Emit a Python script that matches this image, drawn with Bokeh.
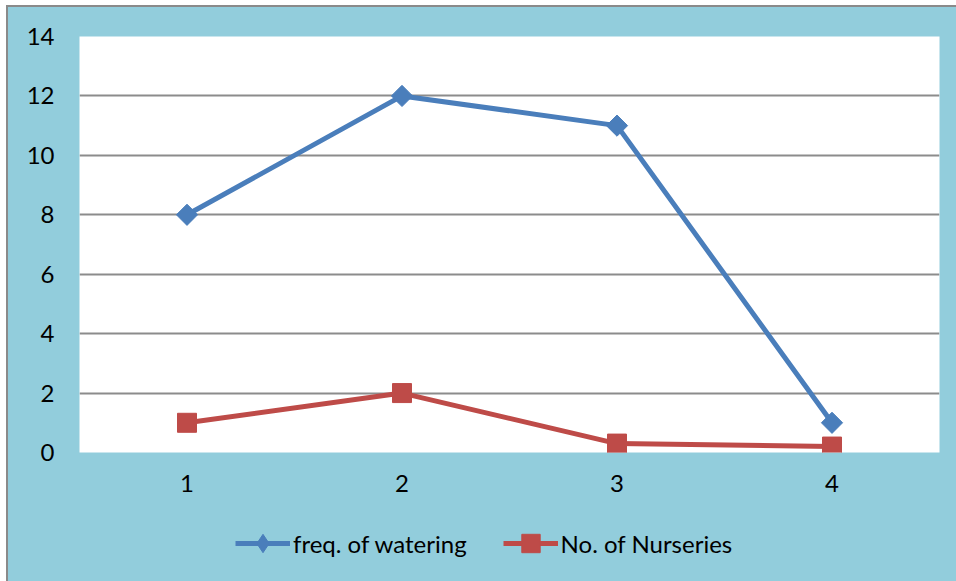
from bokeh.plotting import figure
from bokeh.models import Legend, LegendItem, FixedTicker, Range1d
from bokeh.layouts import column
from bokeh.embed import file_html
from bokeh.resources import INLINE
import math

categories = [1, 2, 3, 4]
freq_watering = [8, 12, 11, 1]
no_nurseries = [1, 2, 0.3, 0.2]
y_ticks = [0, 2, 4, 6, 8, 10, 12, 14]
series_names = ["freq. of watering", "No. of Nurseries"]

BG = "#92CDDC"
BLUE = "#4A7EBB"
RED = "#BE4B48"
FONT = "Lato"
W = 948

p = figure(width=W, height=500, output_backend="svg", toolbar_location=None,
           x_range=Range1d(0.5, 4.5), y_range=Range1d(0, 14),
           background_fill_color="white", border_fill_color=BG,
           min_border_left=71, min_border_right=17, min_border_top=29, min_border_bottom=55)
p.outline_line_color = None

p.xgrid.grid_line_color = None
p.ygrid.grid_line_color = "#8c8c8c"
p.ygrid.grid_line_width = 2

p.yaxis.ticker = FixedTicker(ticks=y_ticks)
p.xaxis.ticker = FixedTicker(ticks=categories)
for ax in (p.xaxis, p.yaxis):
    ax.axis_line_color = None
    ax.major_tick_line_color = None
    ax.minor_tick_line_color = None
    ax.major_label_text_font = FONT
    ax.major_label_text_font_size = "24px"
    ax.major_label_text_color = "black"
p.yaxis.major_label_standoff = 19
p.xaxis.major_label_standoff = 16

p.line(categories, freq_watering, line_color=BLUE, line_width=5)
p.scatter(categories, freq_watering, marker="square", size=15, angle=math.pi / 4,
          fill_color=BLUE, line_color=BLUE)
p.line(categories, no_nurseries, line_color=RED, line_width=5)
p.scatter(categories, no_nurseries, marker="square", size=19, fill_color=RED, line_color=RED)

# legend strip below the chart (its ranges keep the series out of view)
lg = figure(width=W, height=74, output_backend="svg", toolbar_location=None,
            x_range=Range1d(100, 101), y_range=Range1d(100, 101),
            x_axis_type=None, y_axis_type=None,
            background_fill_alpha=0, border_fill_alpha=0,
            min_border_left=0, min_border_right=0, min_border_top=0, min_border_bottom=0)
lg.outline_line_color = None
lg.xgrid.visible = False
lg.ygrid.visible = False
l1 = lg.line(categories, freq_watering, line_color=BLUE, line_width=5)
m1 = lg.scatter(categories, freq_watering, marker="diamond", fill_color=BLUE, line_color=BLUE)
l2 = lg.line(categories, no_nurseries, line_color=RED, line_width=5)
m2 = lg.scatter(categories, no_nurseries, marker="square", fill_color=RED, line_color=RED)

legend = Legend(items=[LegendItem(label=series_names[0], renderers=[l1, m1]),
                       LegendItem(label=series_names[1], renderers=[l2, m2])],
                orientation="horizontal", location=(156, 15),
                background_fill_alpha=0, border_line_color=None,
                label_text_font=FONT, label_text_font_size="24px", label_text_color="black",
                glyph_width=55, glyph_height=46, spacing=36, padding=0, margin=0,
                label_standoff=3)
lg.add_layout(legend, "center")

layout = column(p, lg, spacing=0)
layout.styles = {"margin-left": "6px", "margin-top": "5px", "background-color": BG,
                 "border-left": "2px solid #8a8a8a", "border-top": "2px solid #8a8a8a"}

open("out.html", "w").write(file_html(layout, INLINE))
